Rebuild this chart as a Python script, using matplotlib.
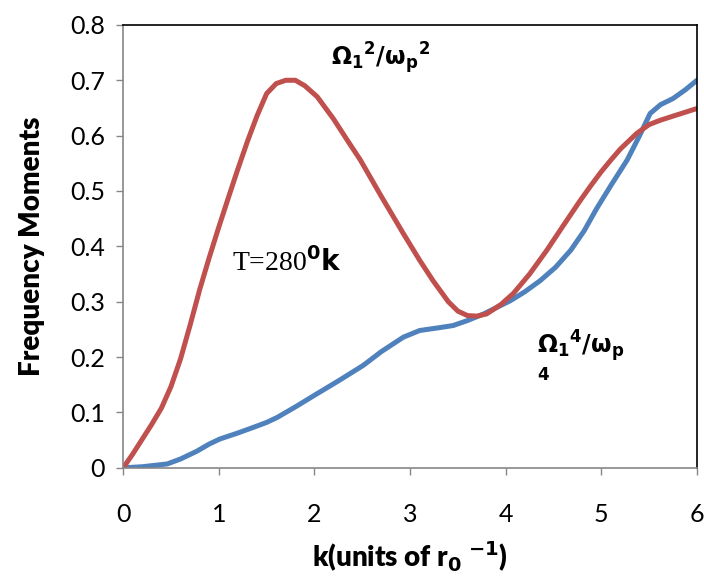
import numpy as np
import matplotlib
matplotlib.use('Agg')
import matplotlib.pyplot as plt

plt.rcParams['font.family'] = ['Lato', 'DejaVu Sans']
plt.rcParams['mathtext.fontset'] = 'dejavusans'

# values
k_red = [0.0, 0.1, 0.2, 0.3, 0.4, 0.5, 0.6, 0.7, 0.8, 0.9, 1.0, 1.1, 1.19, 1.3, 1.4, 1.5,
         1.6, 1.7, 1.8, 1.9, 2.03, 2.2, 2.35, 2.48, 2.7, 2.93, 3.1, 3.24, 3.4, 3.5, 3.6,
         3.7, 3.8, 3.95, 4.08, 4.25, 4.43, 4.6, 4.78, 4.9, 5.0, 5.1, 5.2, 5.37, 5.5, 5.62,
         5.8, 6.0]
m2 = [0.0, 0.025, 0.052, 0.079, 0.108, 0.147, 0.197, 0.258, 0.322, 0.38, 0.435, 0.488, 0.535,
      0.59, 0.636, 0.676, 0.694, 0.70, 0.70, 0.69, 0.67, 0.63, 0.59, 0.556, 0.49, 0.423,
      0.375, 0.338, 0.30, 0.283, 0.275, 0.274, 0.278, 0.295, 0.315, 0.35, 0.393, 0.437,
      0.483, 0.512, 0.535, 0.556, 0.576, 0.604, 0.62, 0.628, 0.638, 0.649]

k_blue = [0.0, 0.2, 0.46, 0.6, 0.77, 0.9, 1.01, 1.2, 1.36, 1.5, 1.61, 1.8, 1.99, 2.25,
          2.51, 2.7, 2.93, 3.1, 3.3, 3.45, 3.6, 3.77, 4.05, 4.2, 4.36, 4.52, 4.68, 4.82,
          4.95, 5.1, 5.27, 5.4, 5.51, 5.62, 5.75, 5.88, 6.0]
m4 = [0.0, 0.002, 0.007, 0.016, 0.03, 0.043, 0.052, 0.063, 0.073, 0.082, 0.091, 0.11,
      0.13, 0.157, 0.185, 0.21, 0.236, 0.248, 0.253, 0.257, 0.266, 0.278, 0.302, 0.318,
      0.338, 0.362, 0.393, 0.428, 0.468, 0.51, 0.556, 0.60, 0.64, 0.656, 0.667, 0.683, 0.70]

xticks = [0, 1, 2, 3, 4, 5, 6]
yticks = [0, 0.1, 0.2, 0.3, 0.4, 0.5, 0.6, 0.7, 0.8]

fig = plt.figure(figsize=(7.04, 5.79), dpi=100)
ax = fig.add_axes([0.175, 0.192, 0.815, 0.765])

ax.plot(k_blue, m4, color='#4F81BD', lw=3.6, solid_joinstyle='round', solid_capstyle='round')
ax.plot(k_red, m2, color='#C0504D', lw=3.6, solid_joinstyle='round', solid_capstyle='round')

ax.set_xlim(0, 6)
ax.set_ylim(0, 0.8)
ax.set_xticks(xticks)
ax.set_yticks(yticks)
ax.set_xticklabels([str(t) for t in xticks])
ax.set_yticklabels(['0'] + ['%.1f' % t for t in yticks[1:]])
ax.tick_params(direction='out', length=5, width=1, color='#868686', labelsize=18)
ax.tick_params(axis='y', pad=8)
ax.tick_params(axis='x', pad=20)

for s in ['left', 'bottom']:
    ax.spines[s].set_color('#868686')
    ax.spines[s].set_linewidth(1.2)
for s in ['top', 'right']:
    ax.spines[s].set_color('black')
    ax.spines[s].set_linewidth(1.2)

ax.set_ylabel('Frequency Moments', fontsize=20, fontweight='heavy', labelpad=18)
ax.set_xlabel(r'k(units of r$_\mathbf{0}$ $^\mathbf{-1}$)', fontsize=20,
              fontweight='heavy', labelpad=10)

ax.text(2.17, 0.74, r'$\mathbf{\Omega_1{}^2/\omega_p{}^2}$', fontsize=17, va='center')
ax.text(1.14, 0.372, r'T=280$^\mathbf{0}\mathbf{k}$', fontsize=20, va='center',
        family=['Liberation Serif', 'DejaVu Serif'])
ax.text(4.33, 0.22, r'$\mathbf{\Omega_1{}^4/\omega_p}$', fontsize=17, va='center')
ax.text(4.33, 0.168, r'$\mathbf{4}$', fontsize=12, va='center')

fig.savefig('out.png', dpi=100)
